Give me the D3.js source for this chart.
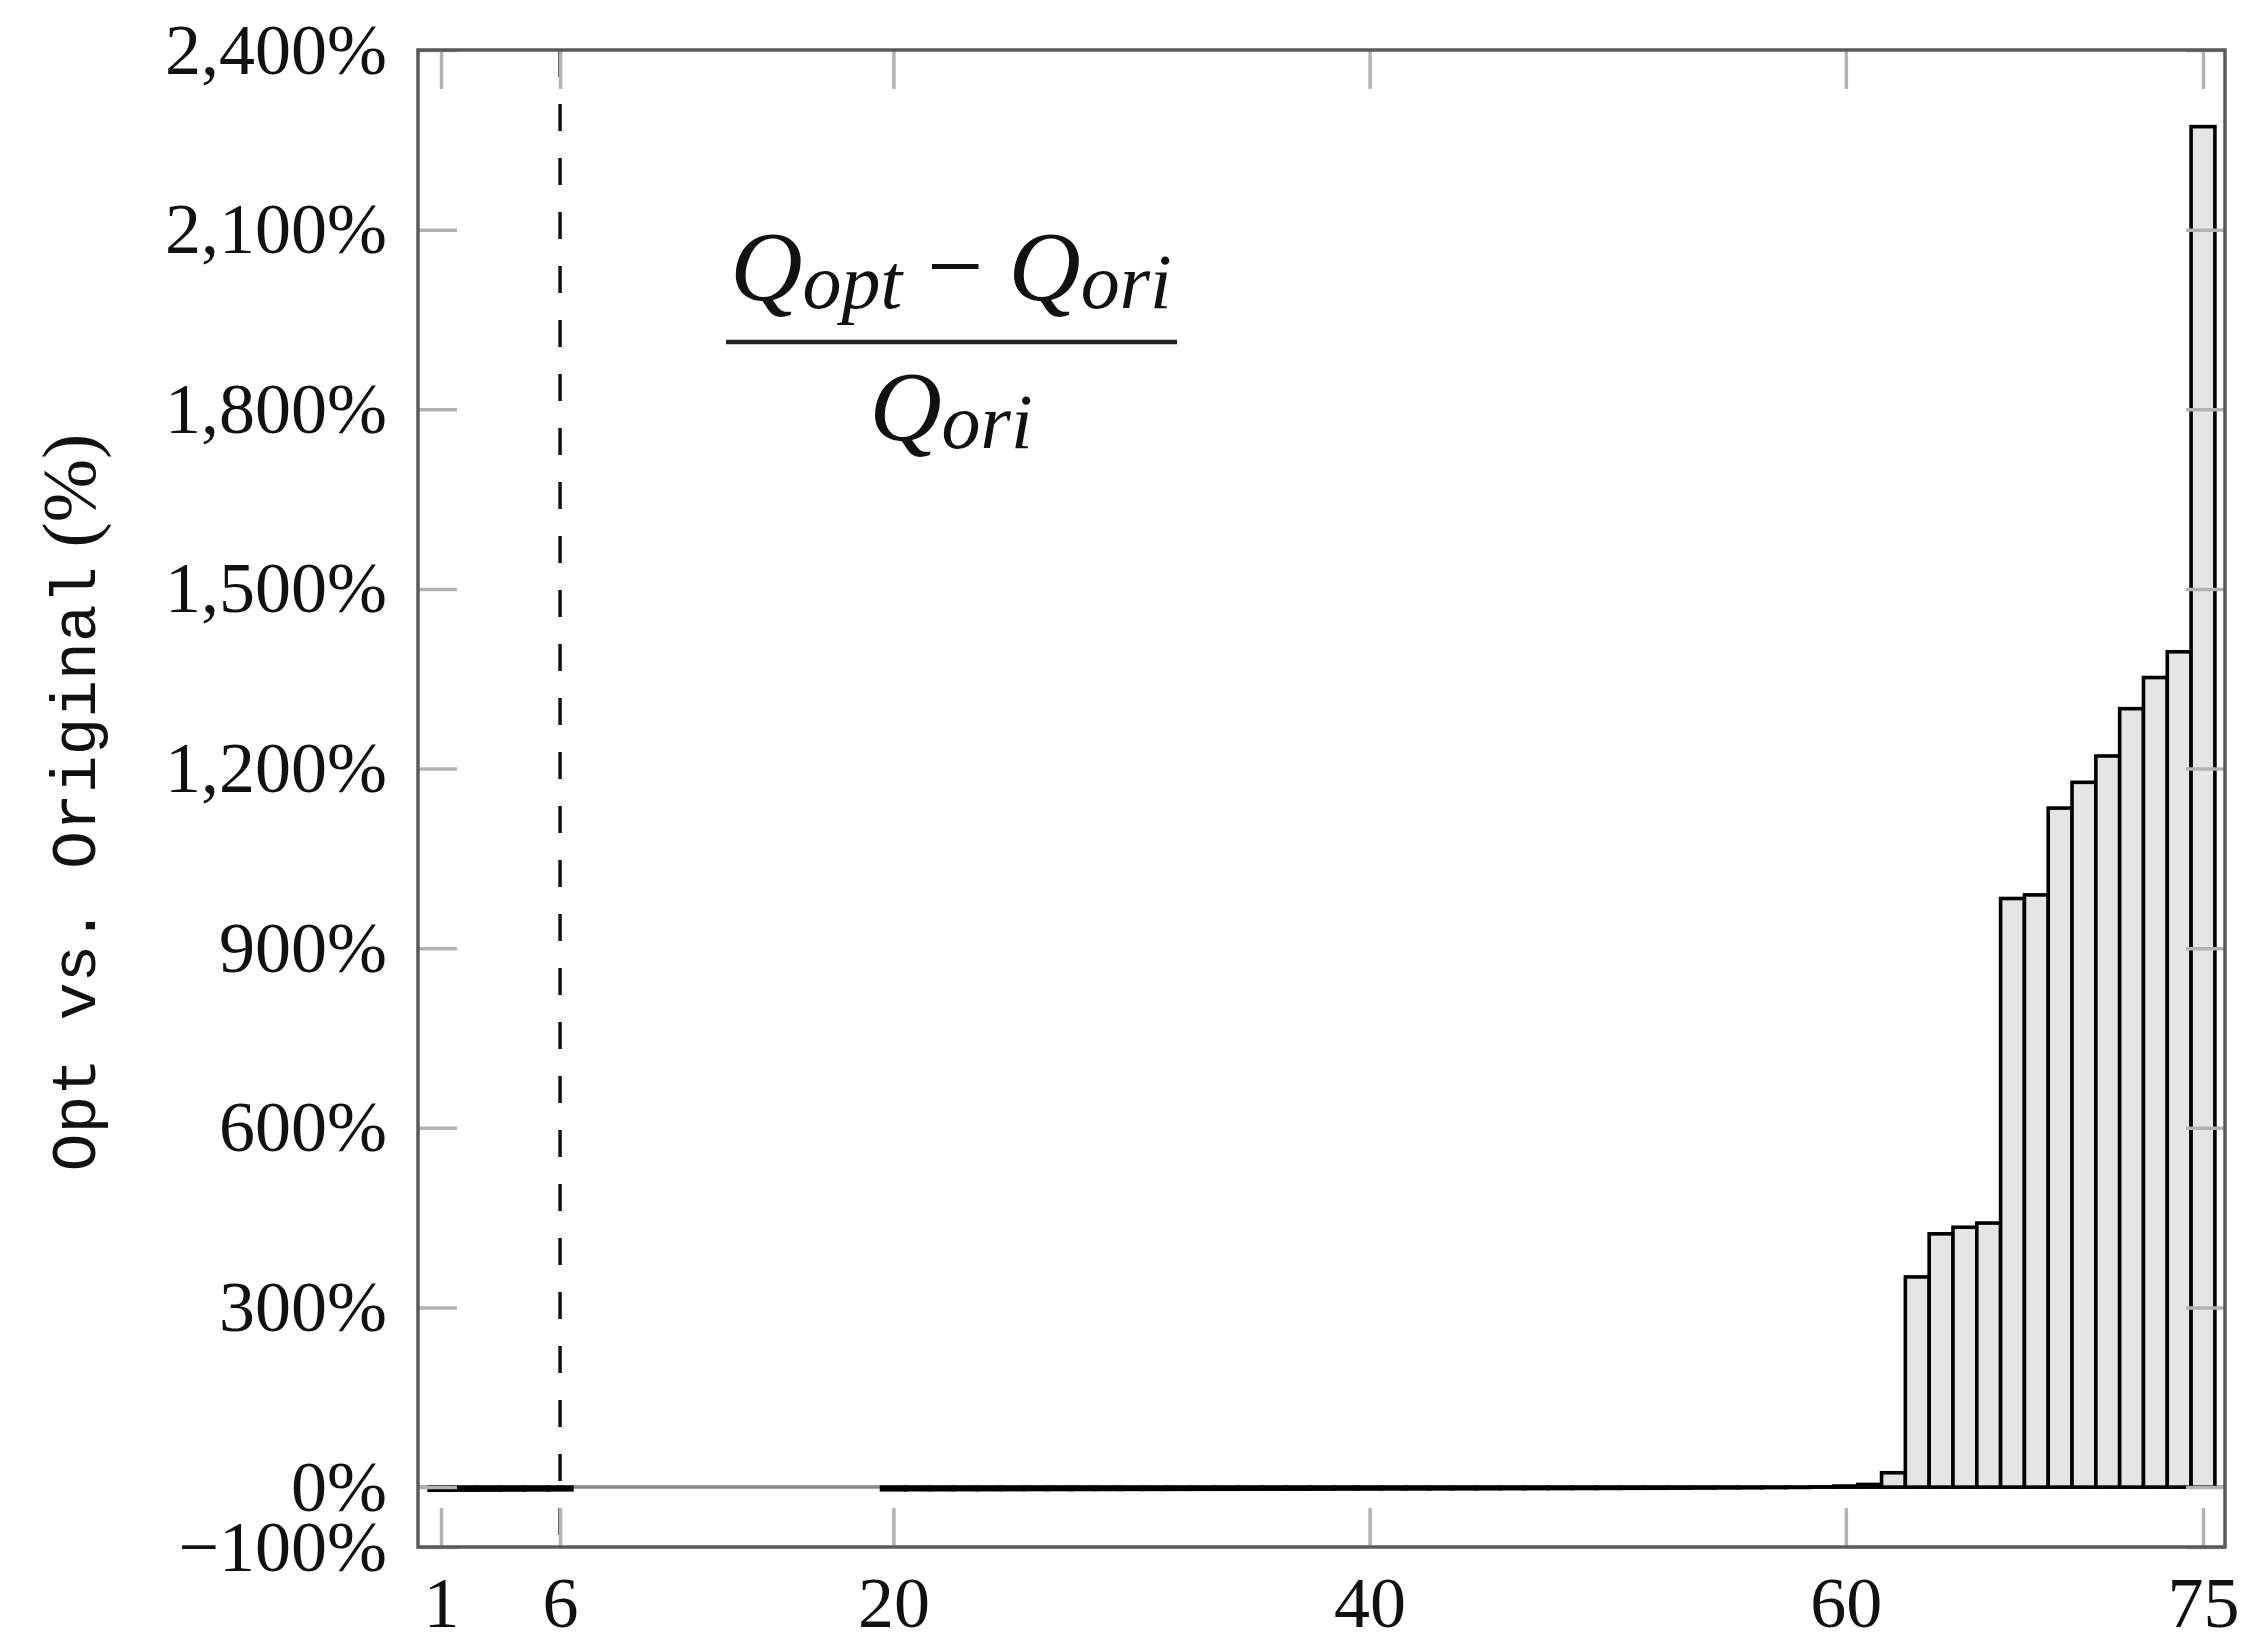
<!DOCTYPE html>
<html>
<head>
<meta charset="utf-8">
<script src="https://cdn.jsdelivr.net/npm/d3@7"></script>
<style>
  body { margin: 0; background: #fff; }
  svg { display: block; }
</style>
</head>
<body>
<div id="chart"></div>
<script>
// query ids (7-19 have no bar in the figure)
const queries = [
  1, 2, 3, 4, 5, 6,
  20, 21, 22, 23, 24, 25, 26, 27, 28, 29,
  30, 31, 32, 33, 34, 35, 36, 37, 38, 39,
  40, 41, 42, 43, 44, 45, 46, 47, 48, 49,
  50, 51, 52, 53, 54, 55, 56, 57, 58, 59,
  60, 61, 62, 63, 64, 65, 66, 67, 68, 69,
  70, 71, 72, 73, 74, 75
];
// (Q_opt - Q_ori) / Q_ori in percent
const gains = [
  -5.2, -5.0, -4.9, -4.8, -4.6, -4.5,
  -4.4, -4.3, -4.3, -4.2, -4.2, -4.1, -4.0, -4.0, -3.9, -3.9,
  -3.8, -3.8, -3.7, -3.6, -3.6, -3.5, -3.4, -3.4, -3.3, -3.2,
  -3.1, -3.0, -3.0, -2.9, -2.8, -2.7, -2.6, -2.5, -2.4, -2.3,
  -2.2, -2.0, -1.9, -1.7, -1.5, -1.3, -1.1, -0.8, -0.5, 0.4,
  1.8, 4.5, 24, 351, 423, 434, 441, 983, 989, 1134,
  1177, 1221, 1300, 1352, 1395, 2272
];
const xTicks = [1, 6, 20, 40, 60, 75];
const yTicks = [-100, 0, 300, 600, 900, 1200, 1500, 1800, 2100, 2400];
const markedQuery = 6;

const W = 2249, H = 1637;
const margin = { top: 50, right: 24, bottom: 90, left: 418 };
const plotR = W - margin.right, plotB = H - margin.bottom;
const tickLen = 39;
const serif = '"Liberation Serif", "Times New Roman", serif';
const mono = '"Liberation Mono", "DejaVu Sans Mono", monospace';

const data = queries.map((q, i) => ({ q: q, v: gains[i] }));

const x = d3.scaleLinear().domain([1, 75]).range([441, 2203]);
const y = d3.scaleLinear().domain([-100, 2400]).range([plotB, margin.top]);
const bw = x(2) - x(1);

const svg = d3.select('#chart').append('svg')
  .attr('width', W).attr('height', H)
  .attr('viewBox', [0, 0, W, H]);

// zero line
svg.append('line')
  .attr('x1', margin.left).attr('x2', plotR)
  .attr('y1', y(0)).attr('y2', y(0))
  .attr('stroke', '#8a8a8a').attr('stroke-width', 3.5);

// bars
svg.append('g')
  .attr('fill', '#e5e5e5')
  .attr('stroke', '#000')
  .attr('stroke-width', 3.6)
  .selectAll('rect')
  .data(data)
  .join('rect')
  .attr('x', d => x(d.q) - bw / 2)
  .attr('width', bw)
  .attr('y', d => y(Math.max(0, d.v)))
  .attr('height', d => Math.abs(y(d.v) - y(0)));

// dashed marker
svg.append('line')
  .attr('x1', x(markedQuery)).attr('x2', x(markedQuery))
  .attr('y1', margin.top).attr('y2', plotB)
  .attr('stroke', '#111').attr('stroke-width', 3.5)
  .attr('stroke-dasharray', '27,27');

// axes
const styleAxis = (g) => {
  g.select('.domain').remove();
  g.selectAll('.tick line').attr('stroke', '#b3b3b3').attr('stroke-width', 3.5);
  g.selectAll('.tick text')
    .attr('font-family', serif).attr('font-size', 72).attr('fill', '#111');
};

svg.append('g')
  .attr('transform', `translate(0,${plotB})`)
  .call(d3.axisBottom(x).tickValues(xTicks).tickSize(-tickLen).tickPadding(29))
  .call(styleAxis);

svg.append('g')
  .attr('transform', `translate(0,${margin.top})`)
  .call(d3.axisTop(x).tickValues(xTicks).tickSize(-tickLen).tickFormat(''))
  .call(styleAxis);

const yFmt = d3.format(',');
svg.append('g')
  .attr('transform', `translate(${margin.left},0)`)
  .call(d3.axisLeft(y).tickValues(yTicks).tickSize(-tickLen).tickPadding(31)
    .tickFormat(d => yFmt(d) + '%'))
  .call(styleAxis);

svg.append('g')
  .attr('transform', `translate(${plotR},0)`)
  .call(d3.axisRight(y).tickValues(yTicks).tickSize(-tickLen).tickFormat(''))
  .call(styleAxis);

// frame
svg.append('rect')
  .attr('x', margin.left).attr('y', margin.top)
  .attr('width', plotR - margin.left).attr('height', plotB - margin.top)
  .attr('fill', 'none').attr('stroke', '#5a5a5a').attr('stroke-width', 3.5);

// y label
const yl = svg.append('text')
  .attr('transform', `translate(95,${(margin.top + plotB) / 2 + 4}) rotate(-90)`)
  .attr('text-anchor', 'middle')
  .attr('fill', '#111');
yl.append('tspan').attr('font-family', mono).attr('font-size', 63).text('Opt vs. Original');
yl.append('tspan').attr('font-family', serif).attr('font-size', 76).text(' (%)');

// formula
const fx = 951;
const num = svg.append('text')
  .attr('x', fx).attr('y', 300)
  .attr('text-anchor', 'middle')
  .attr('font-family', serif).attr('font-style', 'italic')
  .attr('font-size', 100).attr('fill', '#111');
num.append('tspan').text('Q');
num.append('tspan').attr('font-size', 78).attr('dy', 8).text('opt');
num.append('tspan').attr('dy', -8).attr('font-style', 'normal').text(' \u2212 ');
num.append('tspan').text('Q');
num.append('tspan').attr('font-size', 78).attr('dy', 8).text('ori');

svg.append('line')
  .attr('x1', 726).attr('x2', 1177)
  .attr('y1', 342).attr('y2', 342)
  .attr('stroke', '#222').attr('stroke-width', 4.5);

const den = svg.append('text')
  .attr('x', fx).attr('y', 440)
  .attr('text-anchor', 'middle')
  .attr('font-family', serif).attr('font-style', 'italic')
  .attr('font-size', 100).attr('fill', '#111');
den.append('tspan').text('Q');
den.append('tspan').attr('font-size', 78).attr('dy', 8).text('ori');
</script>
</body>
</html>
